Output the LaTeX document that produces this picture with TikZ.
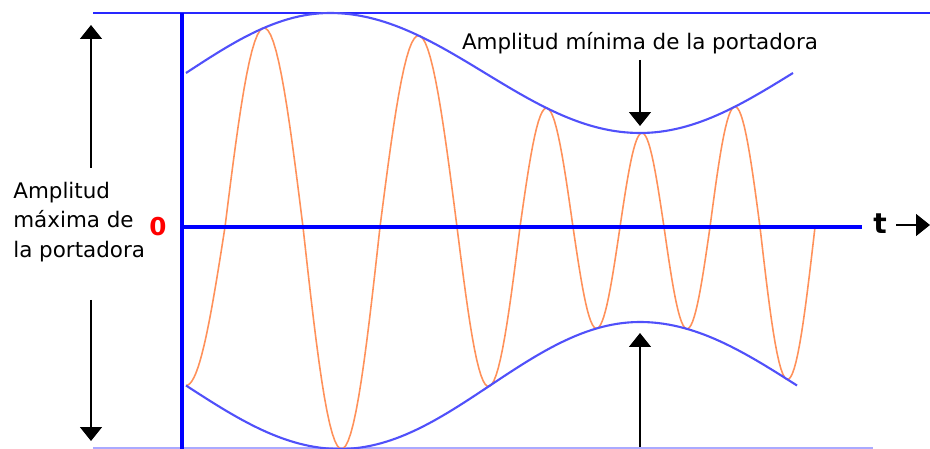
\documentclass[tikz,border=0pt]{standalone}
\usepackage{fontspec}
\setmainfont{DejaVu Sans}
\usetikzlibrary{arrows.meta}

\definecolor{azulEje}{RGB}{0,0,255}
\definecolor{azulLinea}{RGB}{40,40,255}
\definecolor{azulEnv}{RGB}{80,80,250}
\definecolor{azulClaro}{RGB}{170,170,255}
\definecolor{naranja}{RGB}{255,145,90}
\definecolor{rojoCero}{RGB}{255,0,0}

\begin{document}
\begin{tikzpicture}[
  x=0.02cm, y=-0.02cm,
  declare function={
    envSup(\x) = (\x<330) ? (154+60*cos((\x-330)/144*90)) :
                 ((\x<640) ? (154+60*cos((\x-330)/310*180)) : (154-60*cos((\x-640)/153*90)));
    envInf(\x) = (\x<340) ? (158.5+63.5*cos((\x-340)/154*90)) :
                 ((\x<640) ? (158.5+63.5*cos((\x-340)/300*180)) : (158.5-63.5*cos((\x-640)/157*90)));
  },
  envolvente/.style={azulEnv, line width=1.2pt},
  portadora/.style={naranja, line width=0.9pt},
  flecha/.style={black, line width=0.9pt, -{Triangle[width=4.4mm, length=2.8mm]}},
  etiqueta/.style={font=\fontsize{12.2}{17}\selectfont, inner sep=0pt}
]
  \useasboundingbox (0,0) rectangle (930,449);

  % ==========================================
  % 1. LÍNEAS DE REFERENCIA (máximo y mínimo)
  % ==========================================
  \coordinate (supIzq) at (93,13);
  \coordinate (supDer) at (930,13);
  \coordinate (infIzq) at (93,448);
  \coordinate (infDer) at (873,448);
  \draw[azulLinea, line width=1.1pt] (supIzq) -- (supDer);
  \draw[azulClaro, line width=0.9pt] (infIzq) -- (infDer);

  % ==========================================
  % 2. PORTADORA (semiondas entre cruces por cero)
  % ==========================================
  \foreach \xa/\xb/\sg/\ta in {147/225/1/90, 225/303/-1/0, 303/380/1/0,
                               380/457/-1/0, 457/520/1/0, 520/573/-1/0,
                               573/620/1/0, 620/664/-1/0, 664/710/1/0,
                               710/760/-1/0, 760/815/1/0}
  {
    \pgfmathsetmacro\xm{(\xa+\xb)/2}
    \pgfmathsetmacro\amp{\sg>0 ? envInf(\xm) : envSup(\xm)}
    \draw[portadora] plot[domain=\ta:180, samples=30, variable=\t]
      ({\xa+\t/180*(\xb-\xa)}, {227+\sg*\amp*sin(\t)});
  }

  % ==========================================
  % 3. ENVOLVENTES (superior e inferior)
  % ==========================================
  \draw[envolvente] plot[domain=186:793, samples=120] (\x, {227-envSup(\x)});
  \draw[envolvente] plot[domain=186:797, samples=120] (\x, {227+envInf(\x)});

  % ==========================================
  % 4. EJES
  % ==========================================
  \coordinate (ejeArriba) at (182,13);
  \coordinate (ejeAbajo) at (182,449);
  \coordinate (origen) at (182,227);
  \coordinate (ejeFin) at (862,227);
  \draw[azulEje, line width=2.8pt] (ejeArriba) -- (ejeAbajo);
  \draw[azulEje, line width=2pt] (origen) -- (ejeFin);

  % ==========================================
  % 5. ROTULOS Y FLECHAS
  % ==========================================
  \node[etiqueta, anchor=west, align=left] (maxima) at (13,222)
    {Amplitud\\máxima de\\la portadora};
  \node[etiqueta] (minima) at (640,43) {Amplitud mínima de la portadora};
  \node[font=\fontsize{14}{14}\selectfont\bfseries, text=rojoCero, inner sep=0pt]
    (cero) at (158,227) {0};
  \node[font=\fontsize{16}{16}\selectfont\bfseries, inner sep=0pt]
    (tiempo) at (880,224) {t};

  \coordinate (maxArribaIni) at (91,168);
  \coordinate (maxArribaFin) at (91,25);
  \coordinate (maxAbajoIni) at (91,300);
  \coordinate (maxAbajoFin) at (91,441);
  \draw[flecha] (maxArribaIni) -- (maxArribaFin);
  \draw[flecha] (maxAbajoIni) -- (maxAbajoFin);

  \coordinate (minArribaIni) at (640,60);
  \coordinate (minArribaFin) at (640,126);
  \coordinate (minAbajoIni) at (640,447);
  \coordinate (minAbajoFin) at (640,333);
  \draw[flecha] (minArribaIni) -- (minArribaFin);
  \draw[flecha] (minAbajoIni) -- (minAbajoFin);

  \coordinate (tIni) at (896,225);
  \coordinate (tFin) at (930,225);
  \draw[flecha] (tIni) -- (tFin);

\end{tikzpicture}
\end{document}
